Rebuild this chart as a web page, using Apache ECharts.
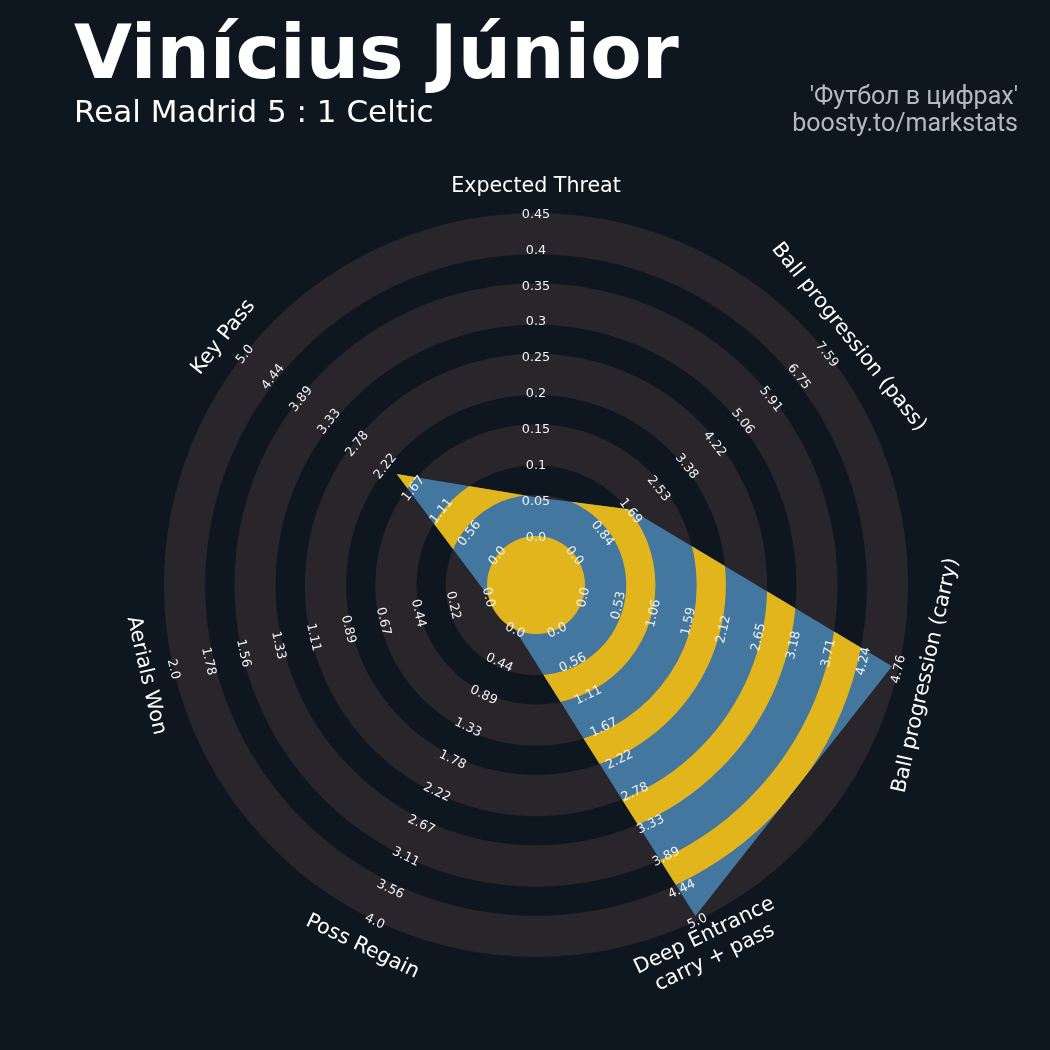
<!DOCTYPE html>
<html><head><meta charset="utf-8">
<script src="https://cdn.jsdelivr.net/npm/echarts@6/dist/echarts.min.js"></script>
<style>html,body{margin:0;padding:0;background:#0e1720;}#c{width:1050px;height:1050px;}</style>
</head><body><div id="c"></div>
<script>
// ---------------- data ----------------
const params = ['Expected Threat', 'Ball progression (pass)', 'Ball progression (carry)',
  'Deep Entrance\ncarry + pass', 'Poss Regain', 'Aerials Won', 'Key Pass'];
const values = [0.054, 1.69, 4.66, 4.93, 0, 0, 2];
const lows = [0, 0, 0, 0, 0, 0, 0];
const highs = [0.45, 7.59, 4.76, 5.0, 4.0, 2.0, 5.0];
const tickLabels = [
  ['0.0','0.05','0.1','0.15','0.2','0.25','0.3','0.35','0.4','0.45'],
  ['0.0','0.84','1.69','2.53','3.38','4.22','5.06','5.91','6.75','7.59'],
  ['0.0','0.53','1.06','1.59','2.12','2.65','3.18','3.71','4.24','4.76'],
  ['0.0','0.56','1.11','1.67','2.22','2.78','3.33','3.89','4.44','5.0'],
  ['0.0','0.44','0.89','1.33','1.78','2.22','2.67','3.11','3.56','4.0'],
  ['0.0','0.22','0.44','0.67','0.89','1.11','1.33','1.56','1.78','2.0'],
  ['0.0','0.56','1.11','1.67','2.22','2.78','3.33','3.89','4.44','5.0']
];
const titleText = 'Vinícius Júnior';
const subtitleText = 'Real Madrid 5 : 1 Celtic';
const creditLines = ["'Футбол в цифрах'", 'boosty.to/markstats'];

// ---------------- style ----------------
const BG = '#0e1720', GREY = '#28252b', BLUE = '#4377a0', YELLOW = '#e3b51c';
const N = params.length;
const INNER = 0.1317;          // centre circle radius (fraction of radar radius)
const BAND = 0.111, GAP = 0.0784;
const LABEL_R = 1.075;
const TEXT_DY = 1.5;

function norm(v, i) { return INNER + (1 - INNER) * (v - lows[i]) / (highs[i] - lows[i]); }
function angleOf(i) { return i * 360 / N; }
function textRot(i) {
  let rot = (90 - angleOf(i)) - 90;
  rot = (((rot % 360) + 540) % 360) - 180;
  if (rot > 90) rot -= 180;
  if (rot < -90) rot += 180;
  return rot * Math.PI / 180;
}
const greyBands = [], gapBands = [];
(function () {
  let r = INNER;
  for (let k = 0; k < 5; k++) {
    greyBands.push([r, r + BAND]); r += BAND;
    if (k < 4) { gapBands.push([r, r + GAP]); r += GAP; }
  }
})();

function renderRadar(p, api) {
  const c = api.coord([0, 0]);
  const R = r => { const q = api.coord([r, 0]); return Math.hypot(q[0] - c[0], q[1] - c[1]); };
  const pts = values.map((v, i) => api.coord([norm(v, i), angleOf(i)]));
  const kids = [];
  greyBands.forEach(b => kids.push({ type: 'ring', shape: { cx: c[0], cy: c[1], r: R(b[1]), r0: R(b[0]) }, style: { fill: GREY } }));
  kids.push({ type: 'polygon', shape: { points: pts }, style: { fill: BLUE } });
  kids.push({
    type: 'group',
    clipPath: { type: 'polygon', shape: { points: pts } },
    children: gapBands.map(b => ({ type: 'ring', shape: { cx: c[0], cy: c[1], r: R(b[1]), r0: R(b[0]) }, style: { fill: YELLOW } }))
  });
  kids.push({ type: 'circle', shape: { cx: c[0], cy: c[1], r: R(INNER) }, style: { fill: YELLOW } });
  // ring value labels and parameter names
  for (let i = 0; i < N; i++) {
    const rot = textRot(i);
    tickLabels[i].forEach((t, k) => {
      const rr = INNER + (1 - INNER) * k / (tickLabels[i].length - 1);
      const q = api.coord([rr, angleOf(i)]);
      kids.push({ type: 'text', x: q[0], y: q[1] + TEXT_DY, rotation: rot,
        style: { text: t, fill: '#f2f2f2', font: '12.8px "DejaVu Sans"', align: 'center', verticalAlign: 'middle' } });
    });
    const q = api.coord([LABEL_R, angleOf(i)]);
    kids.push({ type: 'text', x: q[0], y: q[1] + TEXT_DY, rotation: rot,
      style: { text: params[i], fill: '#ffffff', font: '20.6px "DejaVu Sans"', lineHeight: 24, align: 'center', verticalAlign: 'middle' } });
  }
  return { type: 'group', children: kids };
}

const chart = echarts.init(document.getElementById('c'), null, { renderer: 'canvas' });
chart.setOption({
  backgroundColor: BG,
  animation: false,
  polar: { center: [536, 585], radius: 372 },
  radiusAxis: { type: 'value', min: 0, max: 1, show: false },
  angleAxis: { type: 'value', min: 0, max: 360, startAngle: 90, clockwise: true, show: false },
  series: [{
    type: 'custom', coordinateSystem: 'polar', silent: true,
    data: [[0, 0]],
    renderItem: renderRadar
  }],
  graphic: [
    { type: 'text', x: 74, y: 59, style: { text: titleText, fill: '#ffffff', font: 'bold 75px "DejaVu Sans"', align: 'left', verticalAlign: 'middle' } },
    { type: 'text', x: 74, y: 114, style: { text: subtitleText, fill: '#ffffff', font: '31px "DejaVu Sans"', align: 'left', verticalAlign: 'middle' } },
    { type: 'text', x: 1018, y: 97.5, style: { text: creditLines[0], fill: '#b4bac0', font: '25px Roboto', align: 'right', verticalAlign: 'middle' } },
    { type: 'text', x: 1018, y: 124.5, style: { text: creditLines[1], fill: '#b4bac0', font: '25px Roboto', align: 'right', verticalAlign: 'middle' } }
  ]
});
</script></body></html>
